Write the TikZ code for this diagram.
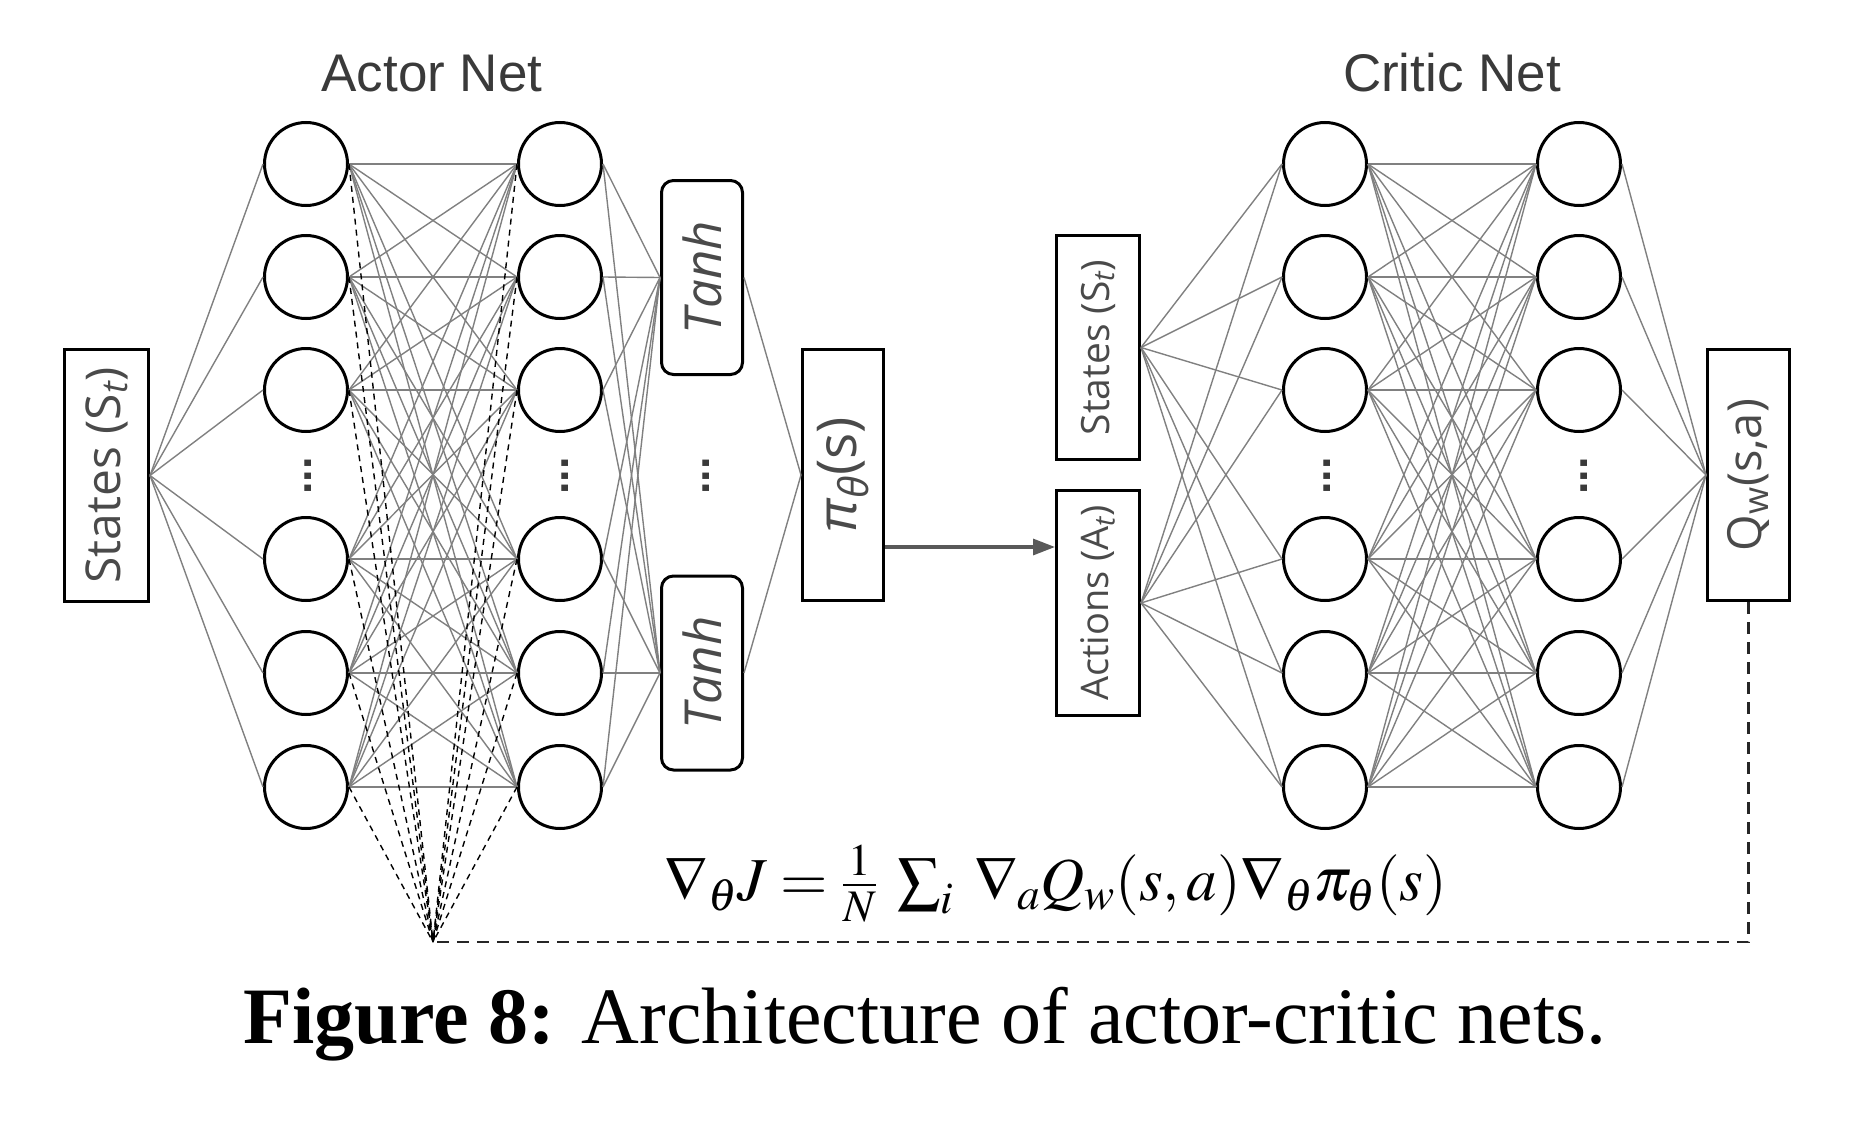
\documentclass[tikz,border=0pt]{standalone}
\usepackage{mathptmx}
\usepackage[no-math]{fontspec}
\setmainfont{Liberation Serif}
\newfontfamily\titlefont{Liberation Sans}
\newfontfamily\boxfont{Open Sans}
\usetikzlibrary{arrows.meta}
\definecolor{ink}{HTML}{3A3A3A}
\definecolor{label}{HTML}{4A4A4A}
\definecolor{wire}{HTML}{808080}

\begin{document}
\begin{tikzpicture}[x=1pt,y=-1pt,
    unit/.style={circle,draw=black,line width=3pt,minimum size=83pt,inner sep=0pt},
    layer/.style={draw=black,line width=3pt,inner sep=0pt,text=label},
    dots/.style={text=ink,inner sep=0pt,font=\titlefont\bfseries\fontsize{45}{45}\selectfont},
    title/.style={text=ink,anchor=base,font=\titlefont\fontsize{53}{60}\selectfont},
    link/.style={draw=wire,line width=1.4pt},
    grad/.style={draw=black,line width=1.4pt,dash pattern=on 6pt off 5pt},
    feedback/.style={draw=black!85,line width=2.8pt,dash pattern=on 12pt off 8pt},
    flow/.style={draw=black!65,line width=3.2pt,-{Triangle[length=22pt,width=16pt]}}]
  \useasboundingbox (0,0) rectangle (1858,1124);
  % actor net
  \draw
    (432,92) node[title] (actortitle){Actor Net}
    (106.5,475.5) node[layer,minimum width=84pt,minimum height=252pt] (sa){\rotatebox{90}{\boxfont\fontsize{48}{48}\selectfont States (S\textsubscript{\itshape t})}}
    (306,164) node[unit] (a1){}
    (306,277) node[unit] (a2){}
    (306,390) node[unit] (a3){}
    (306,559) node[unit] (a4){}
    (306,673) node[unit] (a5){}
    (306,787) node[unit] (a6){}
    (308,476) node[dots] (adots){\rotatebox{90}{...}}
    (560,164) node[unit] (b1){}
    (560,277) node[unit] (b2){}
    (560,390) node[unit] (b3){}
    (560,559) node[unit] (b4){}
    (560,673) node[unit] (b5){}
    (560,787) node[unit] (b6){}
    (565,476) node[dots] (bdots){\rotatebox{90}{...}}
    (702,277.5) node[layer,rounded corners=12pt,minimum width=81pt,minimum height=194pt] (t1){\rotatebox{90}{\boxfont\itshape\fontsize{51}{51}\selectfont Tanh}}
    (702,673) node[layer,rounded corners=12pt,minimum width=81pt,minimum height=194pt] (t2){\rotatebox{90}{\boxfont\itshape\fontsize{51}{51}\selectfont Tanh}}
    (706,476) node[dots] (tdots){\rotatebox{90}{...}}
    (843,475) node[layer,minimum width=81pt,minimum height=251pt] (pi){\rotatebox{90}{\boxfont\fontsize{55}{55}\selectfont\textit{π}\textsubscript{\itshape θ}(s)}};
  % critic net
  \draw
    (1452,92) node[title] (critictitle){Critic Net}
    (1098,347.5) node[layer,minimum width=83pt,minimum height=224pt] (cs){\rotatebox{90}{\boxfont\fontsize{39}{39}\selectfont States (S\textsubscript{\itshape t})}}
    (1098,603) node[layer,minimum width=83pt,minimum height=225pt] (ca){\rotatebox{90}{\boxfont\fontsize{38}{38}\selectfont Actions (A\textsubscript{\itshape t})}}
    (1325,164) node[unit] (c1){}
    (1325,277) node[unit] (c2){}
    (1325,390) node[unit] (c3){}
    (1325,559) node[unit] (c4){}
    (1325,673) node[unit] (c5){}
    (1325,787) node[unit] (c6){}
    (1327,476) node[dots] (cdots){\rotatebox{90}{...}}
    (1579,164) node[unit] (d1){}
    (1579,277) node[unit] (d2){}
    (1579,390) node[unit] (d3){}
    (1579,559) node[unit] (d4){}
    (1579,673) node[unit] (d5){}
    (1579,787) node[unit] (d6){}
    (1584,476) node[dots] (ddots){\rotatebox{90}{...}}
    (1748.5,475) node[layer,minimum width=82pt,minimum height=251pt] (q){\rotatebox{90}{\boxfont\fontsize{47}{47}\selectfont Q\textsubscript{w}(s,a)}};
  % formula and caption
  \draw
    (1056,900) node[anchor=base] (grad){\fontsize{61}{64}\selectfont$\nabla_\theta J = \frac{1}{N}\;\sum_i\;\nabla_a Q_w(s,a)\nabla_\theta\pi_\theta(s)$}
    (925,1043) node[anchor=base] (caption){\fontsize{80}{90}\selectfont\textbf{Figure 8:} Architecture of actor-critic nets.};
  \coordinate (g) at (433,942);
  \coordinate (lvl) at (0,547);
  \begin{scope}[link]
    \draw (sa.east) to (a1.west);
    \draw (sa.east) to (a2.west);
    \draw (sa.east) to (a3.west);
    \draw (sa.east) to (a4.west);
    \draw (sa.east) to (a5.west);
    \draw (sa.east) to (a6.west);
    \draw (a1.east) to (b1.west);
    \draw (a1.east) to (b2.west);
    \draw (a1.east) to (b3.west);
    \draw (a1.east) to (b4.west);
    \draw (a1.east) to (b5.west);
    \draw (a1.east) to (b6.west);
    \draw (a2.east) to (b1.west);
    \draw (a2.east) to (b2.west);
    \draw (a2.east) to (b3.west);
    \draw (a2.east) to (b4.west);
    \draw (a2.east) to (b5.west);
    \draw (a2.east) to (b6.west);
    \draw (a3.east) to (b1.west);
    \draw (a3.east) to (b2.west);
    \draw (a3.east) to (b3.west);
    \draw (a3.east) to (b4.west);
    \draw (a3.east) to (b5.west);
    \draw (a3.east) to (b6.west);
    \draw (a4.east) to (b1.west);
    \draw (a4.east) to (b2.west);
    \draw (a4.east) to (b3.west);
    \draw (a4.east) to (b4.west);
    \draw (a4.east) to (b5.west);
    \draw (a4.east) to (b6.west);
    \draw (a5.east) to (b1.west);
    \draw (a5.east) to (b2.west);
    \draw (a5.east) to (b3.west);
    \draw (a5.east) to (b4.west);
    \draw (a5.east) to (b5.west);
    \draw (a5.east) to (b6.west);
    \draw (a6.east) to (b1.west);
    \draw (a6.east) to (b2.west);
    \draw (a6.east) to (b3.west);
    \draw (a6.east) to (b4.west);
    \draw (a6.east) to (b5.west);
    \draw (a6.east) to (b6.west);
    \draw (b1.east) to (t1.west);
    \draw (b2.east) to (t1.west);
    \draw (b3.east) to (t1.west);
    \draw (b4.east) to (t1.west);
    \draw (b5.east) to (t1.west);
    \draw (b6.east) to (t1.west);
    \draw (b1.east) to (t2.west);
    \draw (b2.east) to (t2.west);
    \draw (b3.east) to (t2.west);
    \draw (b4.east) to (t2.west);
    \draw (b5.east) to (t2.west);
    \draw (b6.east) to (t2.west);
    \draw (t1.east) to (pi.west);
    \draw (t2.east) to (pi.west);
    \draw (cs.east) to (c1.west);
    \draw (cs.east) to (c2.west);
    \draw (cs.east) to (c3.west);
    \draw (cs.east) to (c4.west);
    \draw (cs.east) to (c5.west);
    \draw (cs.east) to (c6.west);
    \draw (ca.east) to (c1.west);
    \draw (ca.east) to (c2.west);
    \draw (ca.east) to (c3.west);
    \draw (ca.east) to (c4.west);
    \draw (ca.east) to (c5.west);
    \draw (ca.east) to (c6.west);
    \draw (c1.east) to (d1.west);
    \draw (c1.east) to (d2.west);
    \draw (c1.east) to (d3.west);
    \draw (c1.east) to (d4.west);
    \draw (c1.east) to (d5.west);
    \draw (c1.east) to (d6.west);
    \draw (c2.east) to (d1.west);
    \draw (c2.east) to (d2.west);
    \draw (c2.east) to (d3.west);
    \draw (c2.east) to (d4.west);
    \draw (c2.east) to (d5.west);
    \draw (c2.east) to (d6.west);
    \draw (c3.east) to (d1.west);
    \draw (c3.east) to (d2.west);
    \draw (c3.east) to (d3.west);
    \draw (c3.east) to (d4.west);
    \draw (c3.east) to (d5.west);
    \draw (c3.east) to (d6.west);
    \draw (c4.east) to (d1.west);
    \draw (c4.east) to (d2.west);
    \draw (c4.east) to (d3.west);
    \draw (c4.east) to (d4.west);
    \draw (c4.east) to (d5.west);
    \draw (c4.east) to (d6.west);
    \draw (c5.east) to (d1.west);
    \draw (c5.east) to (d2.west);
    \draw (c5.east) to (d3.west);
    \draw (c5.east) to (d4.west);
    \draw (c5.east) to (d5.west);
    \draw (c5.east) to (d6.west);
    \draw (c6.east) to (d1.west);
    \draw (c6.east) to (d2.west);
    \draw (c6.east) to (d3.west);
    \draw (c6.east) to (d4.west);
    \draw (c6.east) to (d5.west);
    \draw (c6.east) to (d6.west);
    \draw (d1.east) to (q.west);
    \draw (d2.east) to (q.west);
    \draw (d3.east) to (q.west);
    \draw (d4.east) to (q.west);
    \draw (d5.east) to (q.west);
    \draw (d6.east) to (q.west);
  \end{scope}
  \begin{scope}[grad]
    \draw (a1.east) to (g);
    \draw (a2.east) to (g);
    \draw (a3.east) to (g);
    \draw (a4.east) to (g);
    \draw (a5.east) to (g);
    \draw (a6.east) to (g);
    \draw (b1.west) to (g);
    \draw (b2.west) to (g);
    \draw (b3.west) to (g);
    \draw (b4.west) to (g);
    \draw (b5.west) to (g);
    \draw (b6.west) to (g);
  \end{scope}
  \draw[feedback] (q.south) |- (g);
  \draw[flow] (pi.east |- lvl) -- (ca.west |- lvl);
\end{tikzpicture}
\end{document}
